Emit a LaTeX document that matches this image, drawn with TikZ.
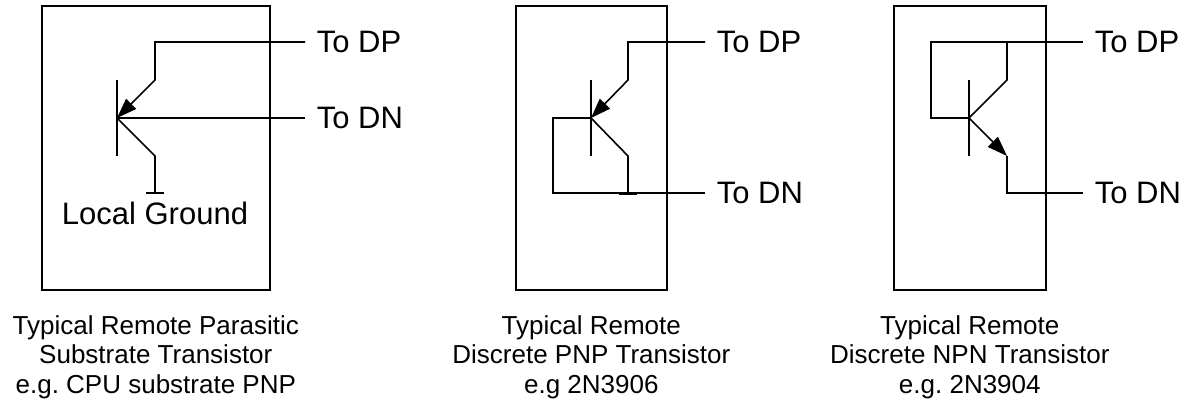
\documentclass[tikz,border=0pt]{standalone}
\usepackage{fontspec}
\setmainfont{Liberation Sans}
\usetikzlibrary{arrows.meta, positioning}
\frenchspacing

\begin{document}
\begin{tikzpicture}[x=1pt, y=-1pt, line width=1.6pt,
    panel/.style={draw, anchor=north west, inner sep=0pt, minimum height=284pt},
    pin/.style={anchor=west, inner xsep=11pt, inner ysep=0pt, font=\fontsize{31}{36}\selectfont},
    caption/.style={align=center, inner sep=0pt, font=\fontsize{26}{29.5}\selectfont},
    emit/.style={-{Triangle[length=20pt, width=14pt]}}]
    \useasboundingbox (0,0) rectangle (1193,404);

    % Boxes
    \node[panel, minimum width=228pt] (box1) at (41,5) {};
    \node[panel, minimum width=151pt] (box2) at (515,5) {};
    \node[panel, minimum width=152pt] (box3) at (893,5) {};

    % Captions
    \node[caption, below=24pt of box1] (cap1) {Typical Remote Parasitic\\Substrate Transistor\\e.g. CPU substrate PNP};
    \node[caption, below=24pt of box2] (cap2) {Typical Remote\\Discrete PNP Transistor\\e.g 2N3906};
    \node[caption, below=24pt of box3] (cap3) {Typical Remote\\Discrete NPN Transistor\\e.g. 2N3904};

    % Parasitic substrate PNP
    \coordinate (bt1) at (117,80);
    \coordinate (bb1) at (117,156);
    \coordinate (b1) at (117,118);
    \coordinate (e1) at (155,80);
    \coordinate (c1) at (155,156);
    \coordinate (g1) at (155,193);
    \coordinate (gl1) at (146,193);
    \coordinate (gr1) at (164,193);
    \node[pin] (dp1) at (305,42) {To DP};
    \node[pin] (dn1) at (305,118) {To DN};
    \node[inner sep=0pt, font=\fontsize{31}{36}\selectfont, below=8pt of g1] (gnd1) {Local Ground};
    \draw (bt1) -- (bb1);
    \draw[emit] (dp1.west) -| (e1) -- (b1);
    \draw (dn1.west) -- (b1);
    \draw (b1) -- (c1) -- (g1);
    \draw (gl1) -- (gr1);

    % Discrete PNP
    \coordinate (bt2) at (591,80);
    \coordinate (bb2) at (591,156);
    \coordinate (b2) at (591,118);
    \coordinate (e2) at (628,80);
    \coordinate (c2) at (628,156);
    \coordinate (g2) at (628,193);
    \coordinate (gl2) at (619,193);
    \coordinate (gr2) at (637,193);
    \coordinate (lt2) at (553,118);
    \coordinate (lb2) at (553,193);
    \node[pin] (dp2) at (705,42) {To DP};
    \node[pin] (dn2) at (705,193) {To DN};
    \draw (bt2) -- (bb2);
    \draw[emit] (dp2.west) -| (e2) -- (b2);
    \draw (b2) -- (lt2) -- (lb2) -- (dn2.west);
    \draw (b2) -- (c2) -- (g2);
    \draw[line width=3pt] (gl2) -- (gr2);

    % Discrete NPN
    \coordinate (bt3) at (969,80);
    \coordinate (bb3) at (969,156);
    \coordinate (b3) at (969,118);
    \coordinate (c3) at (1007,80);
    \coordinate (ct3) at (1007,42);
    \coordinate (e3) at (1007,156);
    \coordinate (lb3) at (931,118);
    \coordinate (lt3) at (931,42);
    \node[pin] (dp3) at (1083,42) {To DP};
    \node[pin] (dn3) at (1083,193) {To DN};
    \draw (bt3) -- (bb3);
    \draw (b3) -- (lb3) -- (lt3) -- (dp3.west);
    \draw (b3) -- (c3) -- (ct3);
    \draw[emit] (b3) -- (e3);
    \draw (e3) |- (dn3.west);
\end{tikzpicture}
\end{document}
